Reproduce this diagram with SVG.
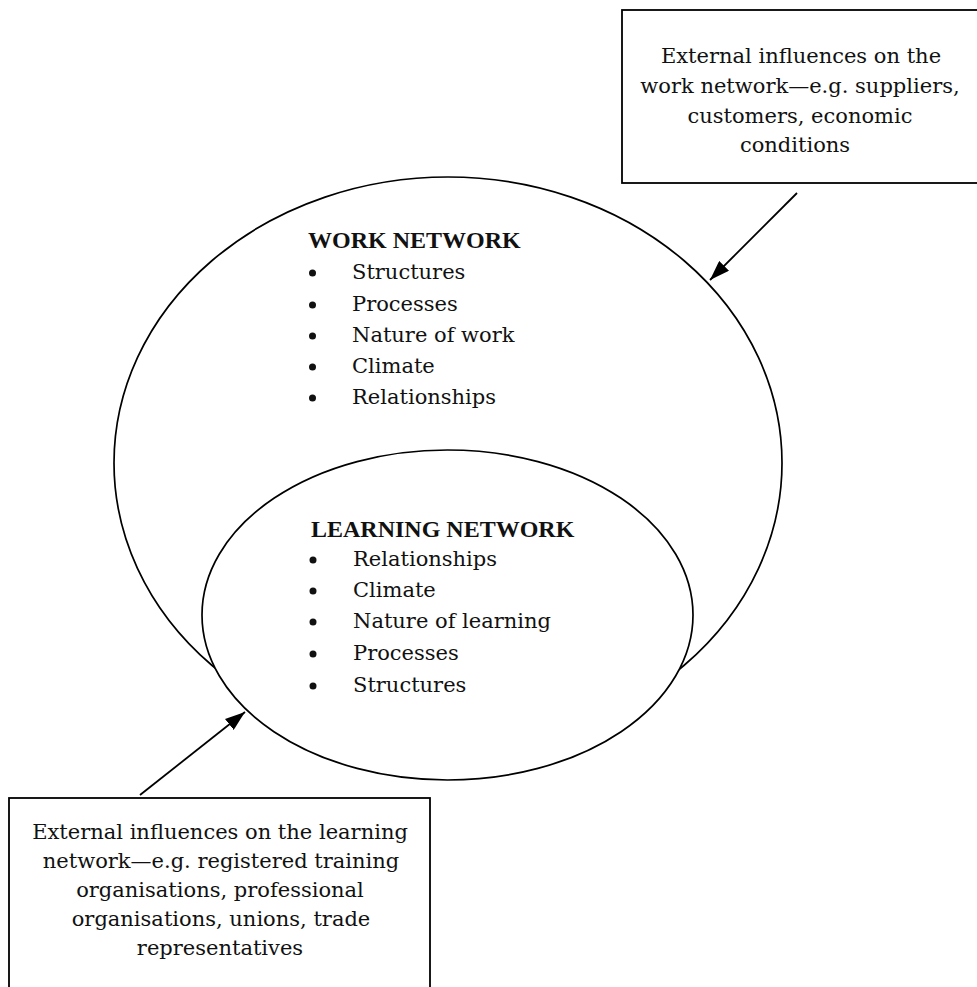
<svg xmlns="http://www.w3.org/2000/svg" width="977" height="987" viewBox="0 0 977 987">
<style>
.shape{fill:none;stroke:#000;stroke-width:1.7}
.box{fill:#fff;stroke:#000;stroke-width:1.8}
.bt{font-family:"DejaVu Serif","Liberation Serif",serif;font-size:21px;fill:#111;text-anchor:middle}
.it{font-family:"DejaVu Serif","Liberation Serif",serif;font-size:21px;fill:#111}
.hd{font-family:"Liberation Serif","Times New Roman",serif;font-size:24px;font-weight:bold;fill:#111}
.bul{fill:#111}
.conn{stroke:#000;stroke-width:1.8;fill:none}
</style>
<defs>
<marker id="ah" viewBox="0 0 20 14" markerWidth="20" markerHeight="14" markerUnits="userSpaceOnUse" refX="20" refY="7" orient="auto">
<path d="M0,0 L20,7 L0,14 z" fill="#000"/>
</marker>
</defs>
<rect width="977" height="987" fill="#fff"/>
<g id="work-network">
<ellipse class="shape" cx="448" cy="463" rx="334" ry="286"/>
<text class="hd" x="308" y="248">WORK NETWORK</text>
<circle class="bul" cx="312.5" cy="273" r="3.5"/><text class="it" x="352" y="279">Structures</text>
<circle class="bul" cx="312.5" cy="305" r="3.5"/><text class="it" x="352" y="311">Processes</text>
<circle class="bul" cx="312.5" cy="336" r="3.5"/><text class="it" x="352" y="342">Nature of work</text>
<circle class="bul" cx="312.5" cy="367" r="3.5"/><text class="it" x="352" y="373">Climate</text>
<circle class="bul" cx="312.5" cy="398" r="3.5"/><text class="it" x="352" y="404">Relationships</text>
</g>
<g id="learning-network">
<ellipse class="shape" cx="447.5" cy="615" rx="245.5" ry="165" style="fill:#fff"/>
<text class="hd" x="311" y="537">LEARNING NETWORK</text>
<circle class="bul" cx="313" cy="560" r="3.5"/><text class="it" x="353" y="566">Relationships</text>
<circle class="bul" cx="313" cy="591" r="3.5"/><text class="it" x="353" y="597">Climate</text>
<circle class="bul" cx="313" cy="622" r="3.5"/><text class="it" x="353" y="628">Nature of learning</text>
<circle class="bul" cx="313" cy="654" r="3.5"/><text class="it" x="353" y="660">Processes</text>
<circle class="bul" cx="313" cy="686" r="3.5"/><text class="it" x="353" y="692">Structures</text>
</g>
<g id="work-influences">
<rect class="box" x="622" y="10" width="370" height="173"/>
<text class="bt" x="801" y="63">External influences on the</text>
<text class="bt" x="800" y="93">work network—e.g. suppliers,</text>
<text class="bt" x="800" y="123">customers, economic</text>
<text class="bt" x="795" y="152">conditions</text>
</g>
<g id="learning-influences">
<rect class="box" x="9" y="798" width="421" height="210"/>
<text class="bt" x="220" y="839">External influences on the learning</text>
<text class="bt" x="221" y="868">network—e.g. registered training</text>
<text class="bt" x="220" y="897">organisations, professional</text>
<text class="bt" x="221" y="926">organisations, unions, trade</text>
<text class="bt" x="220" y="955">representatives</text>
</g>
<g id="connectors">
<line class="conn" x1="797" y1="193" x2="710" y2="280" marker-end="url(#ah)"/>
<line class="conn" x1="140" y1="795" x2="245" y2="712" marker-end="url(#ah)"/>
</g>
</svg>
